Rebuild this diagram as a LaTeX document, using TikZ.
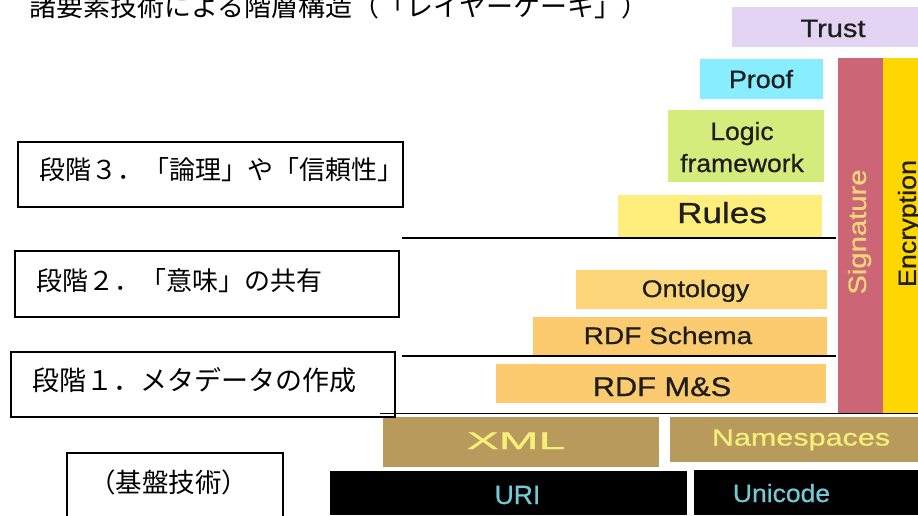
\documentclass[tikz,border=0pt]{standalone}
\usepackage{fontspec}
\usepackage{graphicx}
\newfontfamily\jp{Noto Sans CJK JP}
\newfontfamily\lib[FakeBold=0.7]{Liberation Sans}
\definecolor{trustc}{HTML}{E2D4F2}
\definecolor{proofc}{HTML}{88EEFF}
\definecolor{logicc}{HTML}{D4EC7C}
\definecolor{rulesc}{HTML}{FFEE7B}
\definecolor{ontoc}{HTML}{FDD679}
\definecolor{rdfc}{HTML}{FCCB70}
\definecolor{sigc}{HTML}{CC6576}
\definecolor{encc}{HTML}{FFD700}
\definecolor{xmlc}{HTML}{B89A5C}
\definecolor{xmltxt}{HTML}{F5F07A}
\definecolor{uritxt}{HTML}{72C8D4}
\definecolor{sigtxt}{HTML}{F0D878}
\definecolor{labtxt}{HTML}{1E1E1E}
\newcommand\stretchx[2]{\scalebox{#1}[1]{#2}}
\newcommand\fsz[1]{\fontsize{#1}{#1}\selectfont}
\tikzset{
  lab/.style={anchor=base, inner sep=0pt, text=labtxt, font=\lib},
  jptext/.style={anchor=base west, inner sep=0pt, font=\jp\fsz{26}},
  stagebox/.style={draw=black, line width=1.6pt},
  sepline/.style={draw=black, line width=1.4pt},
}
\begin{document}
\begin{tikzpicture}[x=1pt,y=-1pt]
\useasboundingbox (0,0) rectangle (918,515);
\clip (0,0) rectangle (918,515);
\fill[white] (0,0) rectangle (918,515);
% title
\node[anchor=base west, inner sep=0pt, font=\jp\fsz{27}] (title) at (29,16) {諸要素技術による階層構造（「レイヤーケーキ」）};
% stacked boxes
\fill[trustc] (732,7) rectangle (918,47);
\fill[proofc] (700,59) rectangle (823,99);
\fill[logicc] (668,110) rectangle (824,182);
\fill[rulesc] (618,195) rectangle (822,237);
\fill[ontoc] (576,270) rectangle (827,309);
\fill[rdfc] (533,317) rectangle (827,356);
\fill[rdfc] (496,364) rectangle (826,403);
\fill[sigc] (838,58) rectangle (883,413);
\fill[encc] (883,58) rectangle (918,413);
\fill[xmlc] (383,417) rectangle (659,467);
\fill[xmlc] (670,417) rectangle (918,462);
\fill[black] (330,471) rectangle (687,515);
\fill[black] (694,470) rectangle (918,515);
% labels
\node[lab, font=\lib\fsz{25}] (trust) at (833,37) {\stretchx{1.16}{Trust}};
\node[lab, font=\lib\fsz{25}] (proof) at (761,88) {\stretchx{1.07}{Proof}};
\node[lab, font=\lib\fsz{25}] (logic) at (742,140) {\stretchx{1.06}{Logic}};
\node[lab, font=\lib\fsz{25}] (frame) at (742,172) {\stretchx{1.06}{framework}};
\node[lab, font=\lib\fsz{29}] (rules) at (722,223) {\stretchx{1.21}{Rules}};
\node[lab, font=\lib\fsz{24}] (onto) at (695.5,297) {\stretchx{1.12}{Ontology}};
\node[lab, font=\lib\fsz{24}] (rdfs) at (668,344) {\stretchx{1.17}{RDF Schema}};
\node[lab, font=\lib\fsz{27}] (rdfms) at (662,396) {\stretchx{1.14}{RDF M\&S}};
\node[lab, font=\lib\fsz{24}, text=xmltxt] (xml) at (516,449) {\stretchx{1.99}{XML}};
\node[lab, font=\lib\fsz{23.5}, text=xmltxt] (ns) at (801,445.5) {\stretchx{1.3}{Namespaces}};
\node[lab, font=\lib\fsz{26.5}, text=uritxt] (uri) at (517.5,504) {URI};
\node[lab, font=\lib\fsz{25}, text=uritxt] (uni) at (781.5,502) {\stretchx{1.06}{Unicode}};
\node[inner sep=0pt, rotate=90, font=\lib\fsz{25}, text=sigtxt] (sig) at (859.5,232) {\stretchx{1.17}{Signature}};
\node[inner sep=0pt, rotate=90, font=\lib\fsz{25}, text=labtxt] (enc) at (909.5,223.5) {\stretchx{1.075}{Encryption}};
% separator lines
\coordinate (a1) at (402,238); \coordinate (a2) at (836,238);
\coordinate (b1) at (402,356); \coordinate (b2) at (836,356);
\coordinate (c1) at (380,413.5); \coordinate (c2) at (918,413.5);
\draw[sepline] (a1) -- (a2);
\draw[sepline] (b1) -- (b2);
\draw[sepline] (c1) -- (c2);
% stage boxes
\draw[stagebox] (18,142) rectangle (403,207);
\draw[stagebox] (15,251) rectangle (399,317);
\draw[stagebox] (11,352) rectangle (395,417);
\draw[stagebox] (67,453) rectangle (283,525);
\node[jptext] (s3) at (39,179) {段階３．「論理」や「信頼性」};
\node[jptext] (s2) at (36,290) {段階２．「意味」の共有};
\node[jptext, font=\jp\fsz{27}] (s1) at (32,390) {段階１．メタデータの作成};
\node[anchor=base, inner sep=0pt, font=\jp\fsz{26.5}] (s0) at (168.5,492) {（基盤技術）};
\end{tikzpicture}
\end{document}
